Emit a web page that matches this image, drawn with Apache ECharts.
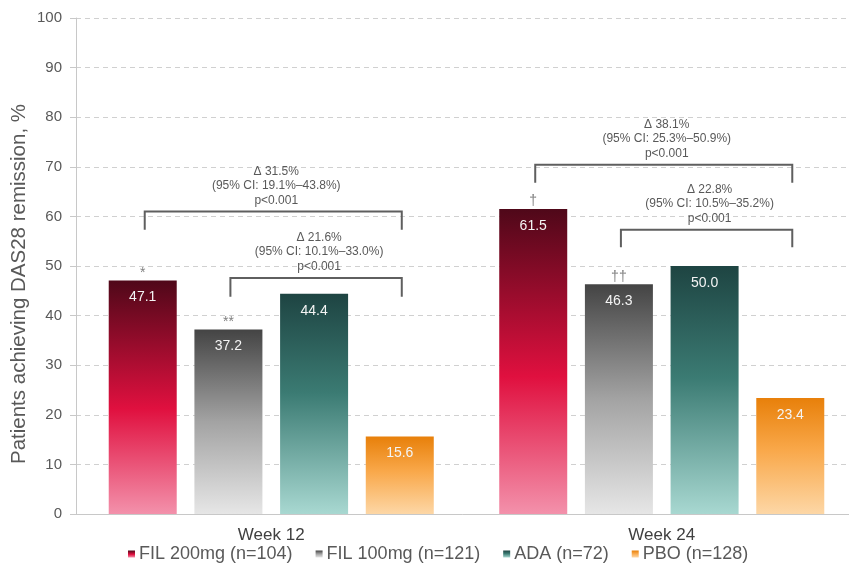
<!DOCTYPE html>
<html>
<head>
<meta charset="utf-8">
<script src="https://cdn.jsdelivr.net/npm/echarts@6/dist/echarts.min.js"></script>
<style>
html,body{margin:0;padding:0;background:#fff;}
#chart{width:849px;height:571px;}
</style>
</head>
<body>
<div id="chart"></div>
<script>
// ---- data ----
const categories = ['Week 12', 'Week 24'];
const seriesNames = ['FIL 200mg (n=104)', 'FIL 100mg (n=121)', 'ADA (n=72)', 'PBO (n=128)'];
const fil200 = [47.1, 61.5];
const fil100 = [37.2, 46.3];
const ada = [44.4, 50.0];
const pbo = [15.6, 23.4];
const yTicks = [0, 10, 20, 30, 40, 50, 60, 70, 80, 90, 100];
const yTitle = 'Patients achieving DAS28 remission, %';

// significance markers above bars
const markerCategory = [0, 0, 1, 1];
const markerSeries = [0, 1, 0, 1];
const markerText = ['*', '**', '\u2020', '\u2020\u2020'];

// comparison brackets
const bracketCategory = [0, 0, 1, 1];
const bracketFrom = [0, 1, 0, 1];
const bracketTo = [3, 3, 3, 3];
const bracketTop = [61.0, 47.6, 70.4, 57.3];
const bracketLeg = [57.3, 43.8, 66.8, 53.8];
const bracketDelta = ['\u0394 31.5%', '\u0394 21.6%', '\u0394 38.1%', '\u0394 22.8%'];
const bracketCI = ['(95% CI: 19.1%\u201343.8%)', '(95% CI: 10.1%\u201333.0%)', '(95% CI: 25.3%\u201350.9%)', '(95% CI: 10.5%\u201335.2%)'];
const bracketP = ['p<0.001', 'p<0.001', 'p<0.001', 'p<0.001'];

// ---- styles ----
const FONT = '"Liberation Sans", Arial, sans-serif';
const BAR_W = 68;
const BAR_GAP = 0.26;
const STEP = BAR_W * (1 + BAR_GAP);
const allValues = [fil200, fil100, ada, pbo];

function grad(stops) {
  return new echarts.graphic.LinearGradient(0, 0, 0, 1, stops.map(s => ({offset: s[0], color: s[1]})));
}
const colors = [
  grad([[0, '#4f0819'], [0.55, '#e0103f'], [1, '#f391ab']]),
  grad([[0, '#444444'], [0.5, '#a3a3a3'], [1, '#e6e6e6']]),
  grad([[0, '#1e4442'], [0.45, '#3b7b73'], [1, '#a8d8d1']]),
  grad([[0, '#e8800a'], [0.45, '#f9a84a'], [1, '#fdd7a6']])
];

function barX(api, cat, idx) {
  const c = api.coord([cat, 0]);
  return c[0] + (idx - 1.5) * STEP;
}

const barSeries = allValues.map((vals, i) => ({
  name: seriesNames[i],
  type: 'bar',
  data: vals,
  barWidth: BAR_W,
  barGap: (BAR_GAP * 100) + '%',
  itemStyle: {color: colors[i]},
  label: {
    show: true,
    position: 'insideTop',
    distance: 10,
    color: '#f4f4f4',
    fontSize: 14,
    fontFamily: FONT,
    formatter: p => p.value.toFixed(1)
  },
  z: 2
}));

const markerSeriesDef = {
  type: 'custom',
  z: 5,
  silent: true,
  data: markerCategory.map((c, i) => [c, allValues[markerSeries[i]][c], markerSeries[i], i]),
  renderItem: function (params, api) {
    const cat = api.value(0);
    const val = api.value(1);
    const idx = api.value(2);
    const k = api.value(3);
    const x = barX(api, cat, idx);
    const y = api.coord([cat, val])[1];
    return {
      type: 'text',
      style: {
        x: x, y: y - 0.5,
        text: markerText[k],
        fill: '#7f7f7f',
        font: '14px ' + FONT,
        textAlign: 'center',
        textVerticalAlign: 'bottom'
      }
    };
  }
};

const bracketSeriesDef = {
  type: 'custom',
  z: 5,
  silent: true,
  data: bracketCategory.map((c, i) => [c, bracketTop[i], bracketLeg[i], i]),
  renderItem: function (params, api) {
    const cat = api.value(0);
    const top = api.coord([cat, api.value(1)])[1];
    const leg = api.coord([cat, api.value(2)])[1];
    const k = api.value(3);
    const x1 = barX(api, cat, bracketFrom[k]) + 2;
    const x2 = barX(api, cat, bracketTo[k]) + 2;
    return {
      type: 'group',
      children: [
        {
          type: 'polyline',
          shape: {points: [[x1, leg], [x1, top], [x2, top], [x2, leg]]},
          style: {stroke: '#5f5f5f', lineWidth: 2, fill: null}
        },
        {
          type: 'text',
          style: {
            x: (x1 + x2) / 2 + 3, y: top - 4,
            text: bracketDelta[k] + '\n' + bracketCI[k] + '\n' + bracketP[k],
            fill: '#595959',
            font: '12px ' + FONT,
            lineHeight: 14.5,
            textAlign: 'center',
            textVerticalAlign: 'bottom'
          }
        }
      ]
    };
  }
};

const chart = echarts.init(document.getElementById('chart'), null, {renderer: 'canvas'});
chart.setOption({
  animation: false,
  backgroundColor: '#ffffff',
  textStyle: {fontFamily: FONT},
  grid: {left: 76, top: 18, width: 781, bottom: 57, containLabel: false, outerBoundsMode: 'none'},
  legend: {
    data: seriesNames,
    left: 128,
    top: 545,
    padding: 0,
    itemWidth: 7,
    itemHeight: 7,
    itemGap: 23,
    icon: 'rect',
    textStyle: {color: '#595959', fontSize: 18, fontFamily: FONT, padding: [0, 0, 0, -1]},
    selectedMode: false
  },
  graphic: [{
    type: 'text',
    x: 19, y: 284,
    rotation: Math.PI / 2,
    style: {
      text: yTitle,
      fill: '#595959',
      font: '20.5px ' + FONT,
      textAlign: 'center',
      textVerticalAlign: 'middle'
    }
  }],
  xAxis: {
    type: 'category',
    data: categories,
    axisLine: {show: true, lineStyle: {color: '#c8c8c8', width: 1}},
    axisTick: {show: false},
    axisLabel: {color: '#404040', fontSize: 17, margin: 13, fontFamily: FONT},
    splitLine: {show: false}
  },
  yAxis: {
    type: 'value',
    min: yTicks[0],
    max: yTicks[yTicks.length - 1],
    interval: yTicks[1] - yTicks[0],
    axisLine: {show: true, lineStyle: {color: '#c8c8c8', width: 1}},
    axisTick: {show: true, length: 6, lineStyle: {color: '#c8c8c8'}},
    axisLabel: {color: '#595959', fontSize: 15, margin: 14, fontFamily: FONT},
    splitLine: {show: true, lineStyle: {color: '#d0d0d0', type: [5, 4], width: 1}}
  },
  series: barSeries.concat([markerSeriesDef, bracketSeriesDef])
});
</script>
</body>
</html>
